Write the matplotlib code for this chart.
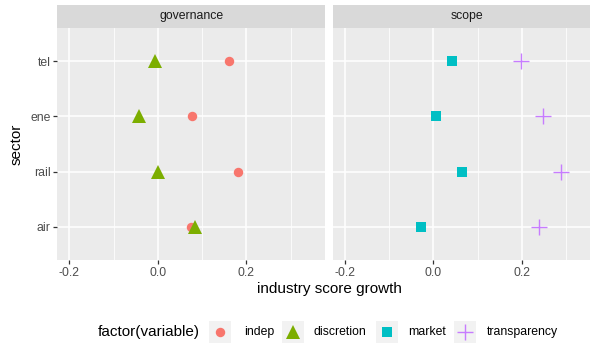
import matplotlib.pyplot as plt
from matplotlib.patches import Rectangle

plt.rcParams['font.family'] = ['Liberation Sans', 'DejaVu Sans']

sectors = ["air", "rail", "ene", "tel"]
indep = [0.075, 0.182, 0.078, 0.161]
discretion = [0.083, -0.001, -0.042, -0.006]
market = [-0.029, 0.064, 0.005, 0.041]
transparency = [0.239, 0.289, 0.248, 0.198]

panels = ["governance", "scope"]
x_ticks = [-0.2, 0.0, 0.2]
x_minor = [-0.3, -0.1, 0.1, 0.3]

red = "#F8766D"
green = "#7CAE00"
cyan = "#00BFC4"
purple = "#C77CFF"

W, H = 590, 346
fig = plt.figure(figsize=(W / 100, H / 100), dpi=100)

def fx(px):
    return px / W

def fy(py):
    return 1 - py / H

top, bottom = 28, 260
strip_top = 5
panel_w = 325 - 57.3
ax1 = fig.add_axes([fx(57.3), fy(bottom), fx(panel_w), fy(top) - fy(bottom)])
# right panel is cut off by the figure edge in the original
ax2 = fig.add_axes([fx(332.7), fy(bottom), fx(panel_w), fy(top) - fy(bottom)])

ypos = list(range(1, len(sectors) + 1))

ax1.plot(indep, ypos, "o", color=red, ms=6.8, mew=0, zorder=3)
ax1.plot(discretion, ypos, "^", color=green, ms=9.5, mew=0, zorder=3)
ax2.plot(market, ypos, "s", color=cyan, ms=7.2, mew=0, zorder=3)
ax2.plot(transparency, ypos, "+", color=purple, ms=11, mew=1, zorder=3)

for i, ax in enumerate([ax1, ax2]):
    ax.set_facecolor("#EBEBEB")
    ax.set_xticks(x_ticks)
    ax.set_xticklabels([f"{t:.1f}" for t in x_ticks])
    ax.set_xticks(x_minor, minor=True)
    ax.set_yticks(ypos)
    ax.set_xlim(-0.2275, 0.3775)
    ax.set_ylim(0.4, 4.6)
    ax.grid(True, which="major", color="white", lw=1.1)
    ax.grid(True, which="minor", axis="x", color="white", lw=0.55)
    ax.set_axisbelow(True)
    for s in ax.spines.values():
        s.set_visible(False)
    ax.tick_params(axis="x", which="major", length=2.7, width=0.9, color="#333333",
                   labelsize=8.8, labelcolor="#4D4D4D", pad=2)
    ax.tick_params(axis="x", which="minor", length=0)
    if i == 0:
        ax.set_yticklabels(sectors)
        ax.tick_params(axis="y", length=2.7, width=0.9, color="#333333",
                       labelsize=8.8, labelcolor="#4D4D4D", pad=2)
    else:
        ax.set_yticklabels([])
        ax.tick_params(axis="y", length=0)
    # facet strip
    pos = ax.get_position()
    sax = fig.add_axes([pos.x0, fy(top), pos.width, fy(strip_top) - fy(top)])
    sax.set_facecolor("#D9D9D9")
    sax.set_xticks([])
    sax.set_yticks([])
    for s in sax.spines.values():
        s.set_visible(False)
    sax.text(0.5, 0.5, panels[i], ha="center", va="center", fontsize=8.8,
             color="#1A1A1A", transform=sax.transAxes)

ax1.set_ylabel("sector", fontsize=11, labelpad=5)
fig.text(fx(329), fy(289), "industry score growth", ha="center", va="center", fontsize=11)

# legend, laid out by hand in pixel coords
lax = fig.add_axes([0, 0, 1, 1], zorder=-1)
lax.set_xlim(0, W)
lax.set_ylim(H, 0)
lax.axis("off")

leg_y = 332
lax.text(98, leg_y, "factor(variable)", ha="left", va="center", fontsize=11)
key_x = [220, 292.5, 386.5, 465]
label_x = [244, 313, 408, 487]
labels = ["indep", "discretion", "market", "transparency"]
styles = [("o", red, 6.8, 0), ("^", green, 9.5, 0), ("s", cyan, 7.2, 0), ("+", purple, 11, 1)]
for kx, tx, lab, (m, c, ms, mew) in zip(key_x, label_x, labels, styles):
    lax.add_patch(Rectangle((kx - 11, leg_y - 11), 22, 22, color="#F2F2F2", lw=0))
    lax.plot([kx], [leg_y], m, color=c, ms=ms, mew=mew)
    lax.text(tx, leg_y, lab, ha="left", va="center", fontsize=8.8, color="black")

fig.savefig("out.png", dpi=100)
